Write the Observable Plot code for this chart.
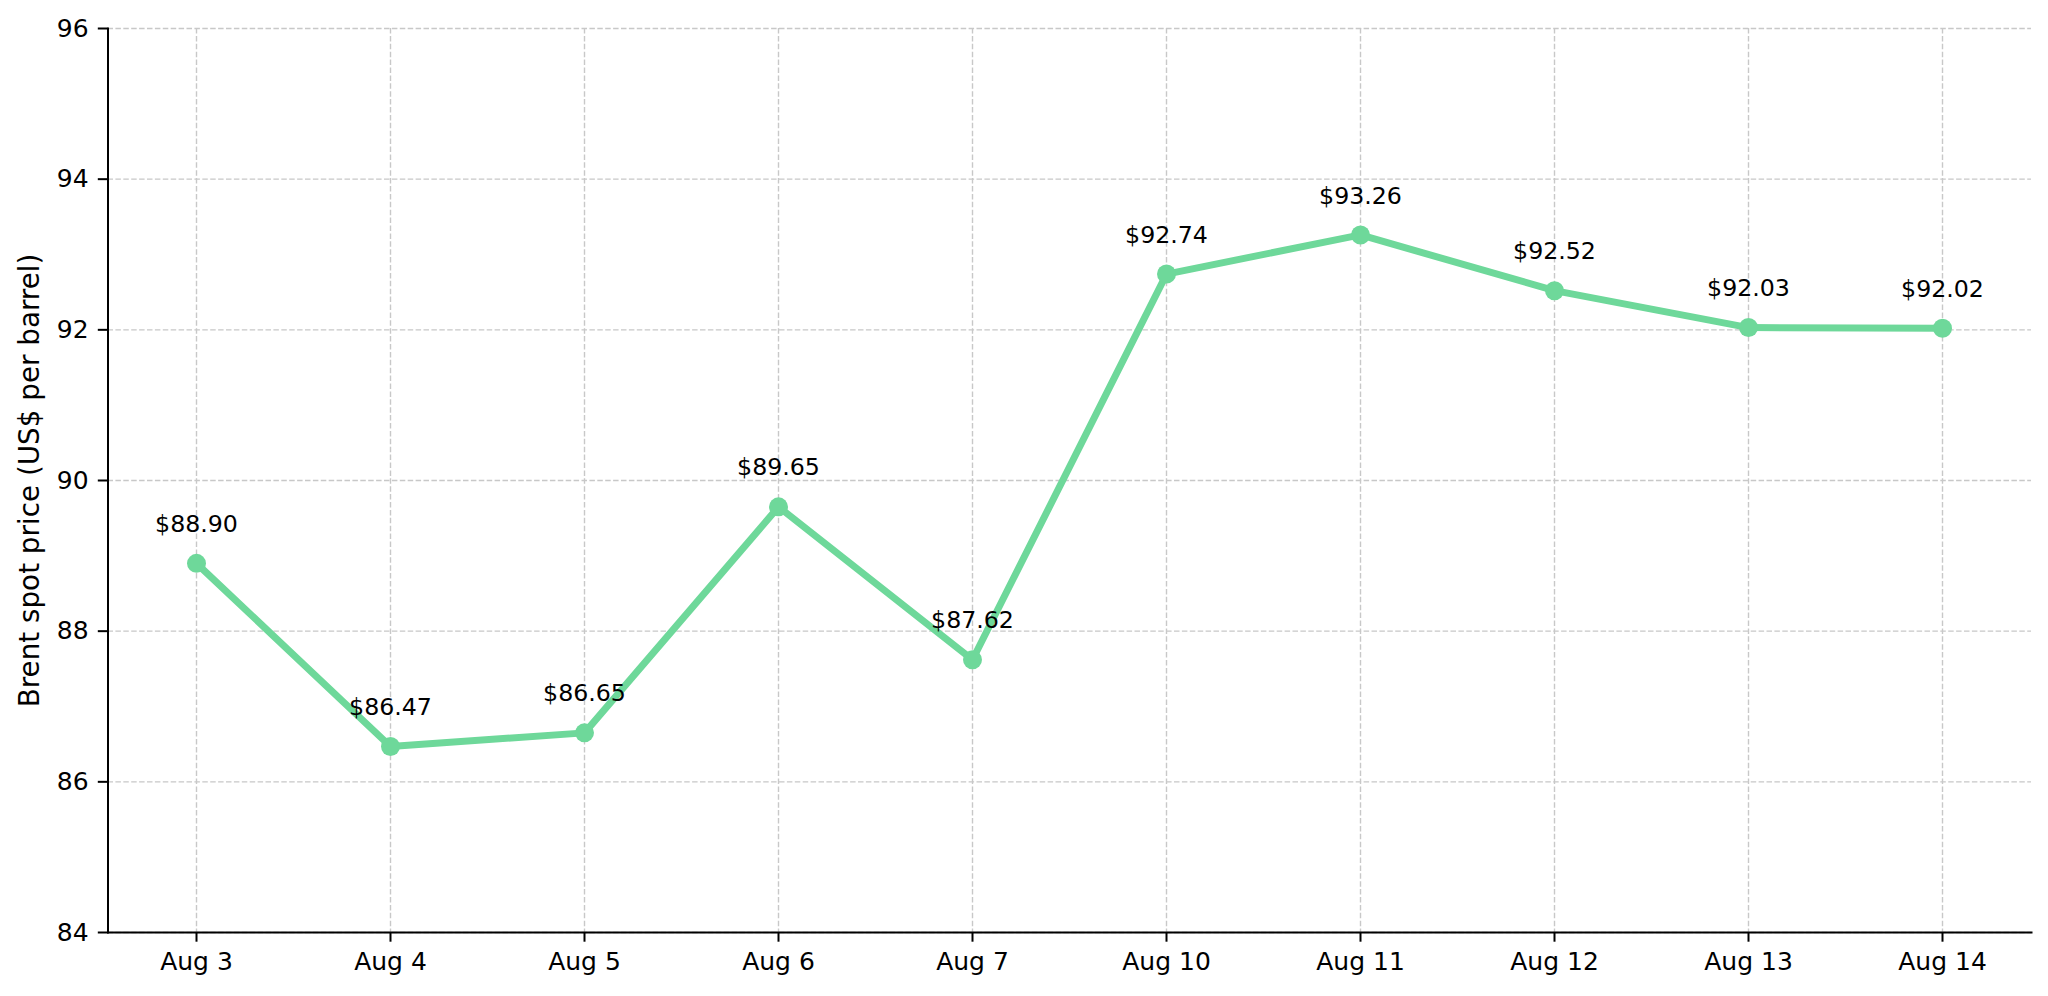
<!DOCTYPE html>
<html>
<head>
<meta charset="utf-8">
<script src="https://cdn.jsdelivr.net/npm/d3@7"></script>
<script src="https://cdn.jsdelivr.net/npm/@observablehq/plot@0.6"></script>
<style>
  html, body { margin: 0; padding: 0; background: #fff; }
  svg { display: block; }
</style>
</head>
<body>
<div id="chart"></div>
<script>
const dates = ["Aug 3", "Aug 4", "Aug 5", "Aug 6", "Aug 7", "Aug 10", "Aug 11", "Aug 12", "Aug 13", "Aug 14"];
const prices = [88.90, 86.47, 86.65, 89.65, 87.62, 92.74, 93.26, 92.52, 92.03, 92.02];
const yTicks = [84, 86, 88, 90, 92, 94, 96];
const yLabel = "Brent spot price (US$ per barrel)";

const data = dates.map((d, i) => ({date: d, price: prices[i]}));
const green = "#6ed89a";
const font = "DejaVu Sans, sans-serif";

const chart = Plot.plot({
  width: 2048,
  height: 996,
  marginLeft: 107.5,
  marginRight: 17,
  marginTop: 28,
  marginBottom: 64,
  style: {fontFamily: font, background: "#fff"},
  x: {type: "point", domain: dates, padding: 0.457},
  y: {domain: [84, 96]},
  marks: [
    Plot.gridX(dates, {stroke: "#c8c8c8", strokeOpacity: 1, strokeWidth: 1.4, strokeDasharray: "5.5,2.4"}),
    Plot.gridY(yTicks, {stroke: "#c8c8c8", strokeOpacity: 1, strokeWidth: 1.4, strokeDasharray: "5.5,2.4"}),
    Plot.axisX(dates, {tickSize: 9.7, tickPadding: 9.7, fontSize: 25, stroke: "#000", strokeWidth: 2, color: "#000", label: null}),
    Plot.axisY(yTicks, {tickSize: 9.7, tickPadding: 9.7, fontSize: 25, stroke: "#000", strokeWidth: 2, color: "#000", label: null, tickFormat: d3.format("d")}),
    Plot.frame({anchor: "left", stroke: "#000", strokeWidth: 2}),
    Plot.frame({anchor: "bottom", stroke: "#000", strokeWidth: 2}),
    Plot.line(data, {x: "date", y: "price", stroke: green, strokeWidth: 7}),
    Plot.dot(data, {x: "date", y: "price", fill: green, r: 9.5}),
    Plot.text(data, {x: "date", y: "price", text: d => "$" + d.price.toFixed(2), dy: -39, fontSize: 23.7, fill: "#000", textAnchor: "middle"}),
    Plot.text([yLabel], {frameAnchor: "left", rotate: -90, dx: -77.5, fontSize: 27.8, fill: "#000", textAnchor: "middle"})
  ]
});
document.getElementById("chart").appendChild(chart);
</script>
</body>
</html>
